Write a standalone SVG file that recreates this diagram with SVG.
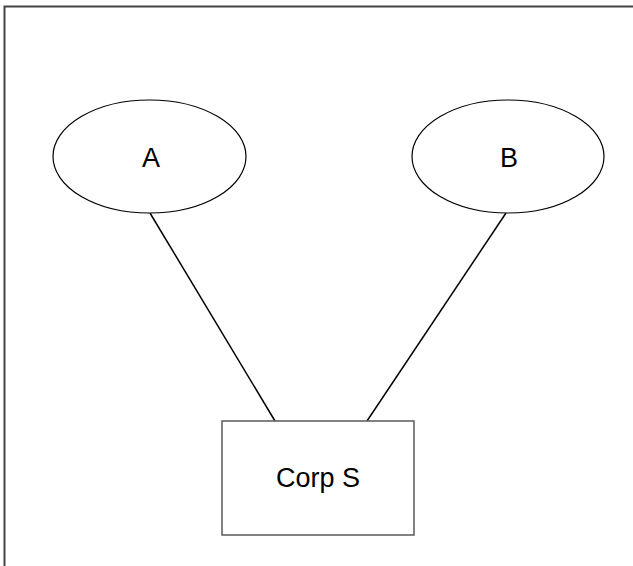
<svg xmlns="http://www.w3.org/2000/svg" width="633" height="566" viewBox="0 0 633 566">
<style>
.shape{fill:#fff;stroke:#000;stroke-width:1.2}
.box{fill:#fff;stroke:#595959;stroke-width:1.5}
.lbl{font-family:"Liberation Sans",Arial,sans-serif;font-size:27px;fill:#000;text-anchor:middle}
.conn{stroke:#000;stroke-width:1.5;fill:none}
</style>
<rect width="633" height="566" fill="#fff"/>
<path d="M4.5 566 V6.5 H633" fill="none" stroke="#444" stroke-width="2"/>
<g id="connectors">
<line class="conn" x1="150" y1="213" x2="275" y2="421"/>
<line class="conn" x1="506" y1="213" x2="367" y2="421"/>
</g>
<g id="node-A">
<ellipse class="shape" cx="149.5" cy="156.5" rx="96.5" ry="56.5"/>
<text class="lbl" x="151" y="167">A</text>
</g>
<g id="node-B">
<ellipse class="shape" cx="508" cy="156.5" rx="96" ry="56.5"/>
<text class="lbl" x="509" y="167">B</text>
</g>
<g id="node-CorpS">
<rect class="box" x="222" y="421" width="192" height="114"/>
<text class="lbl" x="318" y="487">Corp S</text>
</g>
</svg>
